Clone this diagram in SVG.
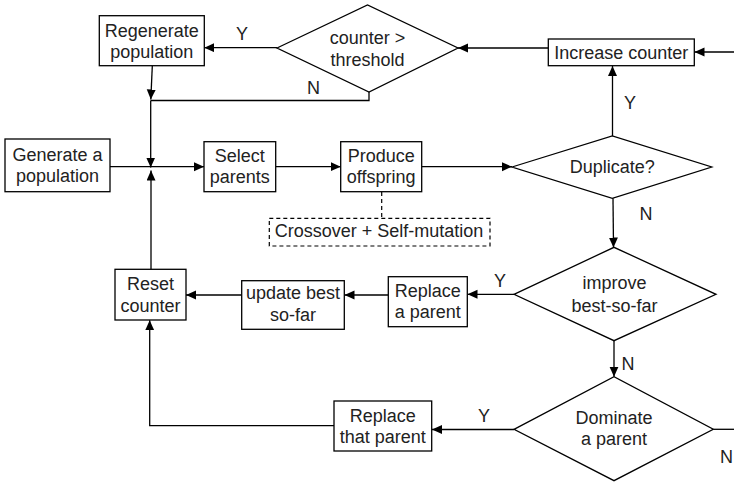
<svg xmlns="http://www.w3.org/2000/svg" width="734" height="484" viewBox="0 0 734 484">
<style>
  .box { fill: #ffffff; stroke: #000; stroke-width: 1.3; }
  .dia { fill: #ffffff; stroke: #000; stroke-width: 1.3; }
  .dash { fill: #ffffff; stroke: #000; stroke-width: 1.2; stroke-dasharray: 4 3; }
  .t { font-family: "Liberation Sans", Arial, sans-serif; font-size: 18px; fill: #222; text-anchor: middle; }
  .c { fill: none; stroke: #000; stroke-width: 1.3; }
  .cd { fill: none; stroke: #000; stroke-width: 1.2; stroke-dasharray: 4 3; }
</style>
<defs>
  <marker id="ah" markerUnits="userSpaceOnUse" markerWidth="11" markerHeight="10" refX="10" refY="4.5" orient="auto">
    <path d="M0,0 L10,4.5 L0,9 z" fill="#000"/>
  </marker>
</defs>
<rect width="734" height="484" fill="#ffffff"/>

<g id="connectors">
  <line class="c" x1="152.3" y1="66" x2="150.8" y2="99.5" marker-end="url(#ah)"/>
  <polyline class="c" points="369,92 369,100.5 150.7,100.5"/>
  <line class="c" x1="150.7" y1="100.5" x2="150.7" y2="167.5" marker-end="url(#ah)"/>
  <line class="c" x1="110" y1="166.7" x2="204" y2="166.7" marker-end="url(#ah)"/>
  <line class="c" x1="151" y1="269.5" x2="151" y2="170.5" marker-end="url(#ah)"/>
  <line class="c" x1="276" y1="166.7" x2="340.7" y2="166.7" marker-end="url(#ah)"/>
  <line class="c" x1="422" y1="166.7" x2="512" y2="166.7" marker-end="url(#ah)"/>
  <line class="c" x1="612.5" y1="136" x2="612.5" y2="66" marker-end="url(#ah)"/>
  <line class="c" x1="734" y1="52" x2="694.5" y2="52" marker-end="url(#ah)"/>
  <line class="c" x1="548.5" y1="48" x2="458" y2="48" marker-end="url(#ah)"/>
  <line class="c" x1="277" y1="47.7" x2="204.3" y2="47.7" marker-end="url(#ah)"/>
  <line class="cd" x1="381.7" y1="192" x2="381.7" y2="218.5"/>
  <line class="c" x1="613" y1="198.3" x2="613.5" y2="247.5" marker-end="url(#ah)"/>
  <line class="c" x1="514" y1="294.3" x2="467.5" y2="294.3" marker-end="url(#ah)"/>
  <line class="c" x1="388.3" y1="295" x2="344.5" y2="295" marker-end="url(#ah)"/>
  <line class="c" x1="241.7" y1="295" x2="186" y2="295" marker-end="url(#ah)"/>
  <line class="c" x1="614" y1="340.7" x2="614" y2="376.7" marker-end="url(#ah)"/>
  <line class="c" x1="514" y1="429.5" x2="432" y2="429.5" marker-end="url(#ah)"/>
  <polyline class="c" points="334,425.7 149.7,425.7 149.7,320.3" marker-end="url(#ah)"/>
  <line class="c" x1="713.3" y1="429.3" x2="734" y2="429.3"/>
  <text class="t" x="242" y="39.5">Y</text>
  <text class="t" x="313.5" y="93.5">N</text>
  <text class="t" x="630" y="109">Y</text>
  <text class="t" x="646" y="220">N</text>
  <text class="t" x="500" y="287">Y</text>
  <text class="t" x="628" y="370">N</text>
  <text class="t" x="484" y="421.5">Y</text>
  <text class="t" x="726.5" y="463">N</text>
</g>

<g id="regenerate">
  <rect class="box" x="99.3" y="15.7" width="105" height="50"/>
  <text class="t" x="151.8" y="37">Regenerate</text>
  <text class="t" x="151.8" y="58">population</text>
</g>
<g id="counter-threshold">
  <polygon class="dia" points="277,48 367.5,5 458,48 369,92"/>
  <text class="t" x="367.5" y="43.5">counter &gt;</text>
  <text class="t" x="367.5" y="65.5">threshold</text>
</g>
<g id="increase-counter">
  <rect class="box" x="548.3" y="39" width="146" height="26.7"/>
  <text class="t" x="621.3" y="58.5">Increase counter</text>
</g>
<g id="generate">
  <rect class="box" x="5" y="139" width="105" height="52.7"/>
  <text class="t" x="57.5" y="160.7">Generate a</text>
  <text class="t" x="57.5" y="181.7">population</text>
</g>
<g id="select">
  <rect class="box" x="204" y="141.7" width="71.7" height="50"/>
  <text class="t" x="239.8" y="161.7">Select</text>
  <text class="t" x="239.8" y="183">parents</text>
</g>
<g id="produce">
  <rect class="box" x="340.7" y="141.7" width="81" height="50"/>
  <text class="t" x="381.2" y="161.7">Produce</text>
  <text class="t" x="381.2" y="183">offspring</text>
</g>
<g id="crossover">
  <rect class="dash" x="269.3" y="218.3" width="220.7" height="27.7"/>
  <text class="t" x="379" y="236.7">Crossover + Self-mutation</text>
</g>
<g id="duplicate">
  <polygon class="dia" points="512,167 612.3,136 711.7,167 612.3,198.3"/>
  <text class="t" x="612.3" y="173.3">Duplicate?</text>
</g>
<g id="improve">
  <polygon class="dia" points="514,294.3 614,247.3 716,294.3 614,340.7"/>
  <text class="t" x="614.5" y="289.3">improve</text>
  <text class="t" x="614.5" y="311.7">best-so-far</text>
</g>
<g id="replace-a-parent">
  <rect class="box" x="388.3" y="276.7" width="79" height="50"/>
  <text class="t" x="427.8" y="296.7">Replace</text>
  <text class="t" x="427.8" y="318.3">a parent</text>
</g>
<g id="update-best">
  <rect class="box" x="241.7" y="280.7" width="102.6" height="48.6"/>
  <text class="t" x="293" y="299.3">update best</text>
  <text class="t" x="293" y="320.7">so-far</text>
</g>
<g id="reset-counter">
  <rect class="box" x="115" y="269.3" width="71" height="50.7"/>
  <text class="t" x="150.5" y="290">Reset</text>
  <text class="t" x="150.5" y="311.7">counter</text>
</g>
<g id="dominate">
  <polygon class="dia" points="514,429.3 614,376.7 713.3,429.3 614,480.7"/>
  <text class="t" x="614" y="424.3">Dominate</text>
  <text class="t" x="614" y="445">a parent</text>
</g>
<g id="replace-that-parent">
  <rect class="box" x="334" y="401" width="97.7" height="50"/>
  <text class="t" x="382.8" y="421.7">Replace</text>
  <text class="t" x="382.8" y="442.7">that parent</text>
</g>
</svg>
